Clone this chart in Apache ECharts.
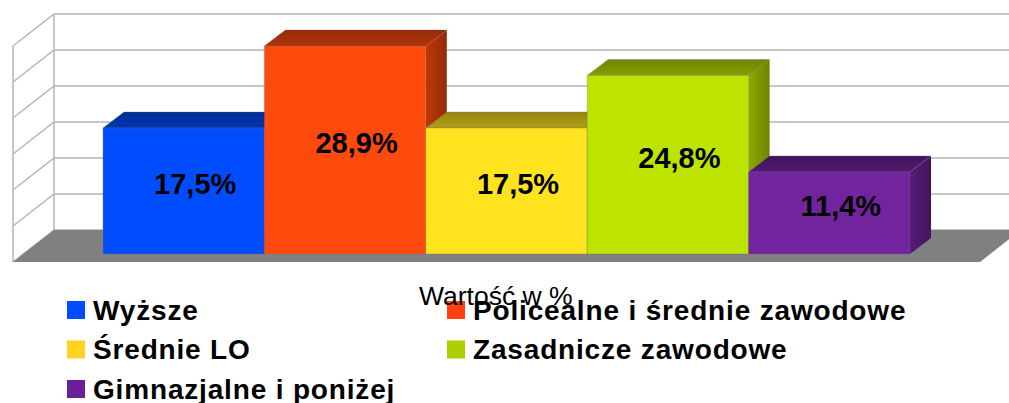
<!DOCTYPE html>
<html>
<head>
<meta charset="utf-8">
<title>Wartość w %</title>
<script src="https://cdn.jsdelivr.net/npm/echarts@6/dist/echarts.min.js"></script>
<style>
  html, body { margin: 0; padding: 0; background: #fff; }
  #chart { width: 1009px; height: 403px; }
  /* rozstrzelenie tekstu legendy */
  #chart text[style*="28px"] { letter-spacing: 0.83px; }
</style>
</head>
<body>
<div id="chart"></div>
<script>
// dane wykresu
var categories = ["Wyższe", "Policealne i średnie zawodowe", "Średnie LO", "Zasadnicze zawodowe", "Gimnazjalne i poniżej"]
var values = [17.5, 28.9, 17.5, 24.8, 11.4]
var yTicks = [0, 5, 10, 15, 20, 25, 30]
var axisTitle = "Wartość w %"

// kolory: przód słupka i znacznik legendy
var barColors = ["#004dff", "#ff4a0d", "#ffe31f", "#bde300", "#72249f"]
var legendColors = ["#004dff", "#ff420e", "#ffd320", "#aecf00", "#6a1f96"]

// głębokość słupka i podłogi (pseudo 3D)
var barDepth = [21, -16]
var wallBack = [-49, -24] // tylna ściana względem płaszczyzny przodu słupków
var wallFront = [-90, 8] // przednia krawędź ściany bocznej
var gridColor = "#b5b5b5"
var floorColor = "#808080"

// przyciemnienie koloru
function shade(color, k) {
  var c = echarts.color.parse(color)
  return "rgb(" + Math.round(c[0] * k) + "," + Math.round(c[1] * k) + "," + Math.round(c[2] * k) + ")"
}

function gradient(x2, y2, c1, c2) {
  return new echarts.graphic.LinearGradient(0, 0, x2, y2, [
    { offset: 0, color: c1 },
    { offset: 1, color: c2 },
  ])
}

// ściany i podłoga
function renderWall(params, api) {
  var x0 = params.coordSys.x
  var y = api.coord([0, api.value(1)])[1]
  var xBack = x0 + wallBack[0]
  var xFront = x0 + wallFront[0]
  var yBack = y + wallBack[1]
  var yFront = y + wallFront[1]
  var lineStyle = { stroke: gridColor, lineWidth: 1.5 }
  var children = [
    { type: "line", shape: { x1: xBack, y1: yBack, x2: 1009, y2: yBack }, style: lineStyle },
    { type: "line", shape: { x1: xFront, y1: yFront, x2: xBack, y2: yBack }, style: lineStyle },
  ]
  if (api.value(1) === 0) {
    var top = api.coord([0, yTicks[yTicks.length - 1]])[1]
    children.unshift(
      { type: "line", shape: { x1: xBack, y1: top + wallBack[1], x2: xBack, y2: yBack }, style: lineStyle },
      { type: "line", shape: { x1: xFront, y1: top + wallFront[1], x2: xFront, y2: yFront }, style: lineStyle }
    )
    children.push({
      type: "polygon",
      shape: {
        points: [
          [xFront, yFront],
          [xBack, yBack],
          [xBack + 967, yBack],
          [xFront + 967, yFront],
        ],
      },
      style: { fill: floorColor },
    })
  }
  return { type: "group", children: children }
}

// jeden słupek: bok, góra, przód, etykieta
function renderBar(params, api) {
  var color = barColors[api.value(0)]
  var top = api.coord([api.value(0), api.value(1)])
  var bottom = api.coord([api.value(0), 0])
  var w = api.size([1, 0])[0]
  var xl = top[0] - w / 2
  var xr = top[0] + w / 2
  var dx = barDepth[0]
  var dy = barDepth[1]
  var edge = "rgba(110,110,110,.55)"
  return {
    type: "group",
    children: [
      {
        type: "polygon",
        shape: { points: [[xr, top[1]], [xr + dx, top[1] + dy], [xr + dx, bottom[1] + dy], [xr, bottom[1]]] },
        style: { fill: gradient(1, 0, shade(color, 0.75), shade(color, 0.58)) },
      },
      {
        type: "polygon",
        shape: { points: [[xl, top[1]], [xl + dx, top[1] + dy], [xr + dx, top[1] + dy], [xr, top[1]]] },
        style: { fill: gradient(0, 1, shade(color, 0.58), shade(color, 0.7)), stroke: edge, lineWidth: 0.6 },
      },
      {
        type: "rect",
        shape: { x: xl, y: top[1], width: w, height: bottom[1] - top[1] },
        style: { fill: color, stroke: edge, lineWidth: 0.6 },
      },
      {
        type: "text",
        style: {
          text: api.value(1).toFixed(1).replace(".", ",") + "%",
          x: top[0] + dx / 2 + 1,
          y: (top[1] + bottom[1]) / 2 + dy / 2 + 1,
          align: "center",
          verticalAlign: "middle",
          fill: "#000",
          font: "bold 29px 'Liberation Sans'",
        },
      },
    ],
  }
}

var myChart = echarts.init(document.getElementById("chart"), null, { renderer: "svg" })

var series = [
  {
    type: "custom",
    coordinateSystem: "cartesian2d",
    silent: true,
    data: yTicks.map(function (v) {
      return [0, v]
    }),
    encode: { x: 0, y: 1 },
    renderItem: renderWall,
  },
]
categories.forEach(function (name, i) {
  series.push({
    type: "custom",
    name: name,
    coordinateSystem: "cartesian2d",
    silent: true,
    itemStyle: { color: legendColors[i] },
    data: [[i, values[i]]],
    encode: { x: 0, y: 1 },
    renderItem: renderBar,
  })
})

var legendBase = {
  orient: "vertical",
  icon: "rect",
  itemWidth: 18,
  itemHeight: 18,
  itemGap: 11.5,
  height: 140,
  selectedMode: false,
  padding: 0,
  textStyle: {
    fontFamily: "Liberation Sans",
    fontWeight: "bold",
    fontSize: 28,
    color: "#000",
    padding: [0, 0, 0, 3],
  },
}

var option = {
  animation: false,
  backgroundColor: "#fff",
  title: {
    text: axisTitle,
    left: 419,
    top: 282,
    padding: 0,
    textStyle: { fontFamily: "Liberation Sans", fontWeight: "normal", fontSize: 26.5, color: "#000" },
  },
  legend: [
    Object.assign({}, legendBase, { left: 67, top: 296, data: [categories[0], categories[2], categories[4]] }),
    Object.assign({}, legendBase, { left: 447, top: 296, data: [categories[1], categories[3]] }),
  ],
  grid: { left: 103, top: 38, width: 807, height: 216 },
  xAxis: { type: "category", data: categories, show: false },
  yAxis: { type: "value", min: 0, max: 30, interval: 5, show: false },
  series: series,
}
myChart.setOption(option)
</script>
</body>
</html>
